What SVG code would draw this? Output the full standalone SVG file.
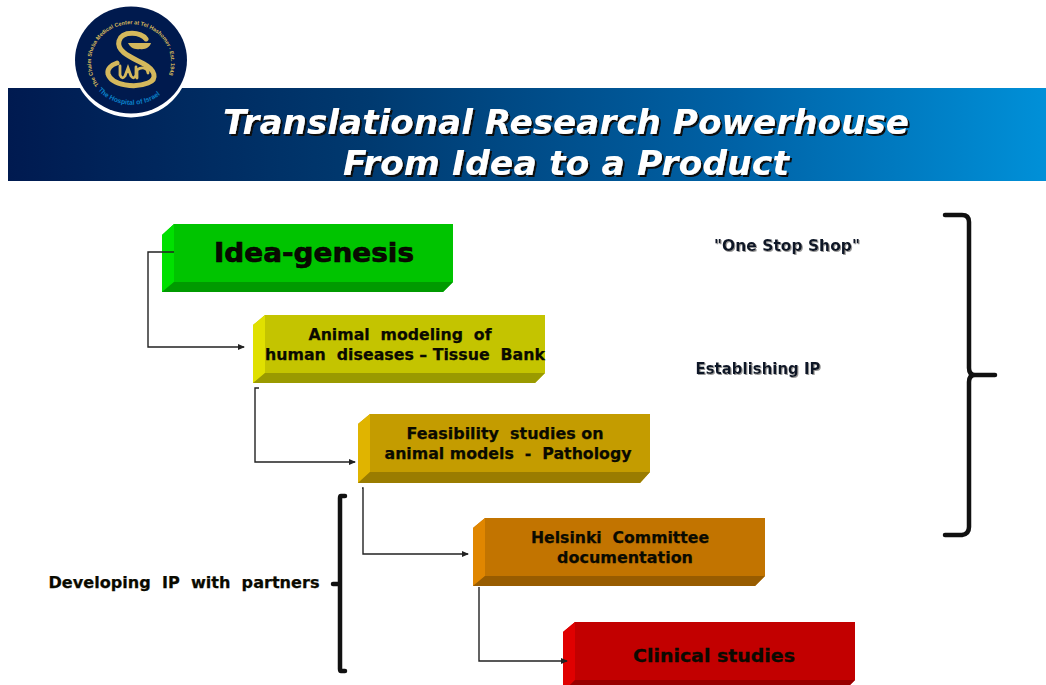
<svg xmlns="http://www.w3.org/2000/svg" xmlns:xlink="http://www.w3.org/1999/xlink" width="1046" height="685" viewBox="0 0 1046 685">
<style>
text{font-family:"DejaVu Sans","Liberation Sans",sans-serif;font-weight:bold;fill:#0a0a00;text-anchor:middle;white-space:pre}
.title{font-size:34px;font-style:italic;fill:#fff;filter:url(#ts)}
.lbl{font-size:16px;stroke:#0a0a00;stroke-width:.25}
.big{font-size:26px;stroke:#000;stroke-width:.6}
.clin{font-size:18px;stroke:#0a0a00;stroke-width:.3}
.side{font-size:15.5px;fill:#101828;filter:url(#ls)}
.lg{font-family:"Liberation Sans",sans-serif;font-size:5.5px;fill:#d9bc5c;text-anchor:start}
.lb{font-family:"Liberation Sans",sans-serif;font-size:6.8px;fill:#0a80c8;text-anchor:start}
.conn{fill:none;stroke:#222;stroke-width:1.4}
.brace{fill:none;stroke:#111;stroke-width:4.5;stroke-linecap:round;stroke-linejoin:round}
</style>
<defs>
<linearGradient id="bar" x1="0" x2="1" y1="0" y2="0">
<stop offset="0" stop-color="#001a50"/><stop offset="0.35" stop-color="#003a70"/><stop offset="0.7" stop-color="#0062a6"/><stop offset="1" stop-color="#0090d8"/>
</linearGradient>
<filter id="ts" x="-5%" y="-20%" width="110%" height="140%"><feDropShadow dx="2" dy="2" stdDeviation="0.6" flood-color="#101010"/></filter>
<filter id="ls" x="-5%" y="-20%" width="110%" height="140%"><feDropShadow dx="1" dy="1" stdDeviation="0.7" flood-color="#999"/></filter>
<marker id="arr" markerWidth="7" markerHeight="6" refX="6" refY="3" orient="auto" markerUnits="userSpaceOnUse"><path d="M0 0L7 3L0 6Z" fill="#222"/></marker>
<path id="arcTop" d="M99 85A40 38 0 1 1 163 85"/>
<path id="arcBot" d="M98 90A44 42 0 0 0 166 89"/>
</defs>
<g id="banner">
<rect x="8" y="88" width="1038" height="93" fill="url(#bar)"/>
<text class="title" x="566" y="134" textLength="686" lengthAdjust="spacingAndGlyphs">Translational Research Powerhouse</text>
<text class="title" x="566" y="175" textLength="446" lengthAdjust="spacingAndGlyphs">From Idea to a Product</text>
</g>
<g id="logo">
<ellipse cx="131" cy="60" rx="58.500" ry="57.500" fill="#fff"/>
<ellipse cx="131" cy="60" rx="56" ry="53.500" fill="#001a4e"/>
<text class="lg"><textPath xlink:href="#arcTop" href="#arcTop">The Chaim Sheba Medical Center at Tel Hashomer - Est. 1948</textPath></text>
<text class="lb"><textPath xlink:href="#arcBot" href="#arcBot">The Hospital of Israel</textPath></text>
<g fill="none" stroke="#d4b85c" stroke-linecap="round">
<path d="M146 39C142 32 122 30 119 41C116 52 133 58 144 64C155 70 158 79 148 83C136 88 112 86 108 74C107 69 111 65 117 63" stroke-width="5"/>
<path d="M120 66V75Q122 80 125 76L128 68L131 76Q134 80 136 75V67M137 78V70C142 66 148 68 148 73" stroke-width="2.800"/>
<path d="M128 43H151C150 47 145 50 140 49C134 50 130 47 128 43Z" fill="#d4b85c" stroke="none"/>
</g>
</g>
<g id="node-idea">
<path d="M162 235L174 224H453V282L443 292H162Z" fill="#00c400"/>
<path d="M162 235L174 224V282L162 292Z" fill="#00e000"/>
<path d="M162 292L174 282H453L443 292Z" fill="#009a00"/>
<text class="big" x="314" y="262" textLength="200" lengthAdjust="spacingAndGlyphs">Idea-genesis</text>
</g>
<g id="node-animal">
<path d="M253 325L265 315H545V373L535 383H253Z" fill="#c4c400"/>
<path d="M253 325L265 315V373L253 383Z" fill="#e0e000"/>
<path d="M253 383L265 373H545L535 383Z" fill="#9a9a00"/>
<text class="lbl" x="400" y="340" textLength="183" lengthAdjust="spacingAndGlyphs">Animal  modeling  of</text>
<text class="lbl" x="405" y="360" textLength="280" lengthAdjust="spacingAndGlyphs">human  diseases – Tissue  Bank</text>
</g>
<g id="node-feasibility">
<path d="M358 424L370 414H650V472L640 483H358Z" fill="#c49c00"/>
<path d="M358 424L370 414V472L358 483Z" fill="#e0b400"/>
<path d="M358 483L370 472H650L640 483Z" fill="#9a7c00"/>
<text class="lbl" x="505" y="439" textLength="197" lengthAdjust="spacingAndGlyphs">Feasibility  studies on</text>
<text class="lbl" x="508" y="459" textLength="247" lengthAdjust="spacingAndGlyphs">animal models  -  Pathology</text>
</g>
<g id="node-helsinki">
<path d="M473 528L485 518H765V576L755 586H473Z" fill="#c27400"/>
<path d="M473 528L485 518V576L473 586Z" fill="#e08600"/>
<path d="M473 586L485 576H765L755 586Z" fill="#985c00"/>
<text class="lbl" x="620" y="543" textLength="178" lengthAdjust="spacingAndGlyphs">Helsinki  Committee</text>
<text class="lbl" x="625" y="563" textLength="136" lengthAdjust="spacingAndGlyphs">documentation</text>
</g>
<g id="node-clinical">
<path d="M563 632L575 622H855V680L850 685H563Z" fill="#c20000"/>
<path d="M563 632L575 622V680L570 685H563Z" fill="#e00000"/>
<path d="M570 685L575 680H855L850 685Z" fill="#980000"/>
<text class="clin" x="714" y="662" textLength="162" lengthAdjust="spacingAndGlyphs">Clinical studies</text>
</g>
<g id="connectors">
<path class="conn" d="M174 252H148V347H244" marker-end="url(#arr)"/>
<path class="conn" d="M259 388H255V462H355" marker-end="url(#arr)"/>
<path class="conn" d="M362 488H363V554H468" marker-end="url(#arr)"/>
<path class="conn" d="M479 587V661H567" marker-end="url(#arr)"/>
</g>
<g id="notes">
<text class="side" x="787" y="251" textLength="146" lengthAdjust="spacingAndGlyphs">"One Stop Shop"</text>
<text class="side" x="758" y="374" textLength="125" lengthAdjust="spacingAndGlyphs">Establishing IP</text>
<text class="lbl" x="184" y="588" textLength="271" lengthAdjust="spacingAndGlyphs">Developing  IP  with  partners</text>
<path class="brace" d="M945 215H962Q969 215 969 222V368Q969 375 975 375H995M975 375Q969 375 969 382V527Q969 534 962 535H945"/>
<path class="brace" d="M345 496H341Q340 496 340 498V669Q340 671 341 671H345M340 584H333"/>
</g>
</svg>
